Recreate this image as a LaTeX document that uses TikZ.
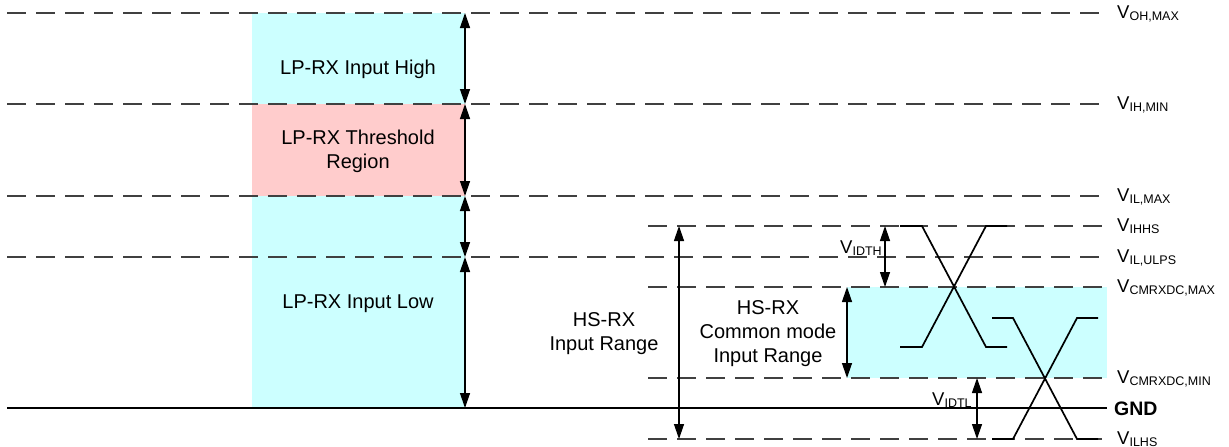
\documentclass[tikz,border=0pt]{standalone}
\usepackage{fontspec}
\setmainfont{Liberation Sans}
\usepackage{tikz}
\usetikzlibrary{arrows.meta}

\definecolor{lpcyan}{RGB}{204,255,255}
\definecolor{lppink}{RGB}{255,204,204}

\tikzset{
	level/.style={draw=black!75, line width=1.3pt, dash pattern=on 19pt off 10pt},
	gndline/.style={draw=black, line width=1.8pt},
	dim/.style={<->, >={Triangle[length=15pt,width=10pt]}, line width=1.3pt},
	wave/.style={draw=black, line width=1.7pt},
	region/.style={font=\fontsize{20}{24}\selectfont, align=center, inner sep=0pt},
	vlabel/.style={anchor=base west, inner sep=0pt, font=\fontsize{18.5}{20}\selectfont}
}
\newcommand{\volt}[1]{V\raisebox{-2pt}{\fontsize{12.5}{14}\selectfont #1}}

\begin{document}
\begin{tikzpicture}[x=1pt,y=-1pt]
	\useasboundingbox (0,0) rectangle (1229,447);
	% shaded regions
	\fill[lpcyan] (252,13) rectangle (465,104);
	\fill[lppink] (252,104) rectangle (465,196);
	\fill[lpcyan] (252,196) rectangle (465,408);
	\fill[lpcyan] (847,287) rectangle (1107,378);
	% levels
	\draw[level] (7,13) -- (1107,13);
	\draw[level] (7,104) -- (1107,104);
	\draw[level] (7,196) -- (1107,196);
	\draw[level] (648,226) -- (1107,226);
	\draw[level] (7,257) -- (1107,257);
	\draw[level] (648,287) -- (1107,287);
	\draw[level] (648,378) -- (1107,378);
	\draw[gndline] (7,408) -- (1107,408);
	\draw[level] (648,439) -- (1107,439);
	% level labels
	\node[vlabel] (ohmax) at (1117,18) {\volt{OH,MAX}};
	\node[vlabel] (ihmin) at (1117,109) {\volt{IH,MIN}};
	\node[vlabel] (ilmax) at (1117,201) {\volt{IL,MAX}};
	\node[vlabel] (ihhs) at (1117,231) {\volt{IHHS}};
	\node[vlabel] (ilulps) at (1117,262) {\volt{IL,ULPS}};
	\node[vlabel] (cmmax) at (1117,292) {\volt{CMRXDC,MAX}};
	\node[vlabel] (cmmin) at (1117,383) {\volt{CMRXDC,MIN}};
	\node[vlabel, font=\fontsize{19.5}{21}\selectfont\bfseries] (gnd) at (1114,415) {GND};
	\node[vlabel] (ilhs) at (1117,444) {\volt{ILHS}};
	% region texts
	\node[region, anchor=base] (inhigh) at (358,74) {LP-RX Input High};
	\node[region] (thresh) at (358,151) {LP-RX Threshold\\Region};
	\node[region, anchor=base] (inlow) at (358,308) {LP-RX Input Low};
	\node[region] (hsrange) at (604,334) {HS-RX\\Input Range};
	\node[region] (cmrange) at (768,334) {HS-RX\\Common mode\\Input Range};
	\node[vlabel] (idth) at (840,253) {\volt{IDTH}};
	\node[vlabel] (idtl) at (932,405) {\volt{IDTL}};
	% arrow ends
	\coordinate (a1) at (465,13);
	\coordinate (a2) at (465,104);
	\coordinate (a3) at (465,196);
	\coordinate (a4) at (465,257);
	\coordinate (a5) at (465,408);
	\coordinate (h1) at (679,226);
	\coordinate (h2) at (679,439);
	\coordinate (c1) at (847,287);
	\coordinate (c2) at (847,378);
	\coordinate (t1) at (885,226);
	\coordinate (t2) at (885,287);
	\coordinate (l1) at (977,378);
	\coordinate (l2) at (977,439);
	\path[dim]
	(a1) edge (a2)
	(a2) edge (a3)
	(a3) edge (a4)
	(a4) edge (a5)
	(h1) edge (h2)
	(c1) edge (c2)
	(t1) edge (t2)
	(l1) edge (l2);
	% differential crossings
	\draw[wave] (900,226) -- (922,226) -- (986,347) -- (1007,347);
	\draw[wave] (900,347) -- (922,347) -- (986,226) -- (1007,226);
	\draw[wave] (992,318) -- (1013,318) -- (1077,439) -- (1098,439);
	\draw[wave] (992,439) -- (1013,439) -- (1077,318) -- (1098,318);
\end{tikzpicture}
\end{document}
